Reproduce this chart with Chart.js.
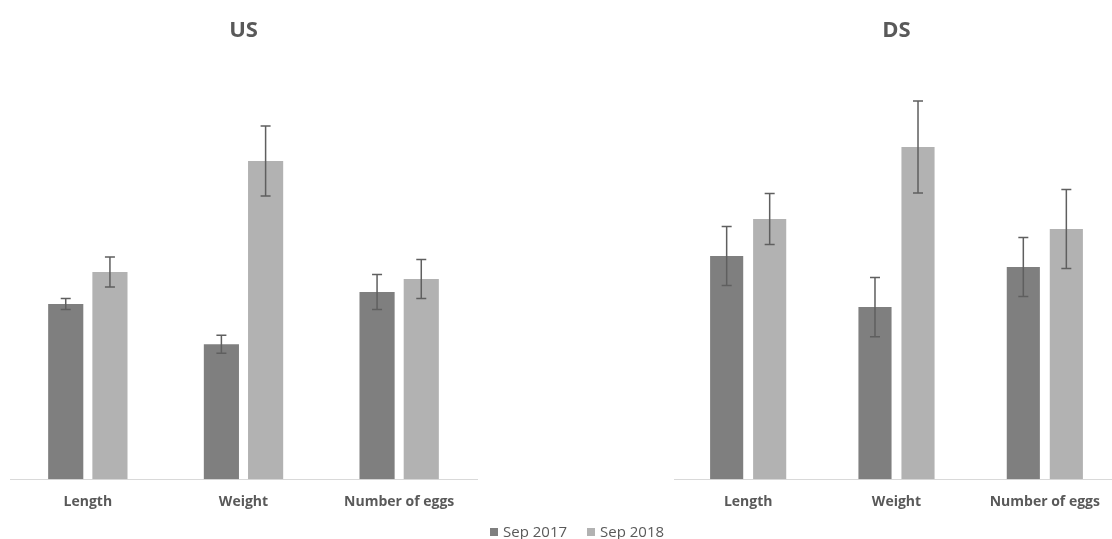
<!DOCTYPE html>
<html>
<head>
<meta charset="utf-8">
<script src="https://cdn.jsdelivr.net/npm/chart.js@4/dist/chart.umd.min.js"></script>
<style>
  body { margin: 0; background: #fff; overflow: hidden; width: 1112px; height: 539px; position: relative; }
  .panel { position: absolute; top: 0; height: 524px; }
  #legend { position: absolute; top: 521px; left: 490px; font: 15px "Open Sans", sans-serif; color: #595959; white-space: nowrap; }
  #legend span.item { margin-right: 20px; }
  #legend i { display: inline-block; width: 8px; height: 8px; margin-right: 5px; vertical-align: 1px; }
</style>
</head>
<body>
<div class="panel" style="left:0; width:487px;"><canvas id="usChart"></canvas></div>
<div class="panel" style="left:664px; width:465px;"><canvas id="dsChart"></canvas></div>
<div id="legend"></div>

<script>
// categories and series (arbitrary units)
const categories = ["Length", "Weight", "Number of eggs"];
const seriesNames = ["Sep 2017", "Sep 2018"];
const seriesColors = ["#7f7f7f", "#b2b2b2"];

const us2017 = [175, 135, 187];
const us2018 = [207, 318, 200];
const us2017Err = [5.5, 9, 17.5];
const us2018Err = [15, 35, 19.5];

const ds2017 = [223, 172, 212];
const ds2018 = [260, 332, 250];
const ds2017Err = [29.5, 29.5, 29.5];
const ds2018Err = [25.5, 46, 39.5];

// draw error bars with caps
const errorBars = {
  id: 'errorBars',
  afterDatasetsDraw(chart) {
    const ctx = chart.ctx;
    const y = chart.scales.y;
    ctx.save();
    ctx.strokeStyle = '#5f5f5f';
    ctx.lineWidth = 1.5;
    chart.data.datasets.forEach((ds, i) => {
      const meta = chart.getDatasetMeta(i);
      meta.data.forEach((bar, j) => {
        const v = ds.data[j];
        const e = ds.errors[j];
        const top = y.getPixelForValue(v + e);
        const bot = y.getPixelForValue(v - e);
        ctx.beginPath();
        ctx.moveTo(bar.x, top); ctx.lineTo(bar.x, bot);
        ctx.moveTo(bar.x - 5, top); ctx.lineTo(bar.x + 5, top);
        ctx.moveTo(bar.x - 5, bot); ctx.lineTo(bar.x + 5, bot);
        ctx.stroke();
      });
    });
    ctx.restore();
  }
};

function makeChart(id, title, a, b, aErr, bErr, catPct, barPct) {
  return new Chart(document.getElementById(id), {
    type: 'bar',
    data: {
      labels: categories,
      datasets: [
        { label: seriesNames[0], data: a, errors: aErr, backgroundColor: seriesColors[0],
          categoryPercentage: catPct, barPercentage: barPct },
        { label: seriesNames[1], data: b, errors: bErr, backgroundColor: seriesColors[1],
          categoryPercentage: catPct, barPercentage: barPct }
      ]
    },
    options: {
      responsive: true,
      maintainAspectRatio: false,
      animation: false,
      layout: { padding: { left: 10, right: 10, top: 0, bottom: 0 } },
      plugins: {
        legend: { display: false },
        tooltip: { enabled: false },
        title: {
          display: true,
          text: title,
          color: '#595959',
          font: { family: 'Open Sans', size: 22, weight: 'bold' },
          padding: { top: 18, bottom: 34.6 }
        }
      },
      scales: {
        x: {
          grid: { display: false, drawTicks: false },
          border: { color: '#d9d9d9', width: 1 },
          ticks: { color: '#595959', padding: 14, font: { family: 'Open Sans', size: 14, weight: 'bold' } }
        },
        y: { display: false, min: 0, max: 400 }
      }
    },
    plugins: [errorBars]
  });
}

makeChart('usChart', 'US', us2017, us2018, us2017Err, us2018Err, 0.568, 0.795);
makeChart('dsChart', 'DS', ds2017, ds2018, ds2017Err, ds2018Err, 0.58, 0.77);

// legend
const legend = document.getElementById('legend');
seriesNames.forEach((name, i) => {
  const item = document.createElement('span');
  item.className = 'item';
  item.innerHTML = `<i style="background:${seriesColors[i]}"></i>${name}`;
  legend.appendChild(item);
});
</script>
</body>
</html>
